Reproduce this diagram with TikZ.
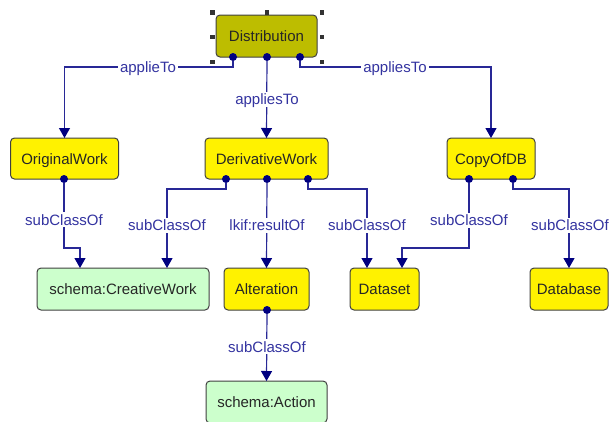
\documentclass[tikz,border=0pt]{standalone}
\usepackage{fontspec}
\setmainfont{Liberation Sans}
\usetikzlibrary{arrows.meta}
\definecolor{linkblue}{RGB}{0,0,128}
\definecolor{edgeblue}{RGB}{40,40,150}
\definecolor{labelblue}{RGB}{51,51,160}
\definecolor{olivebox}{RGB}{189,189,0}
\definecolor{mintbox}{RGB}{204,255,204}
\definecolor{boxline}{RGB}{64,64,64}

\begin{document}
\begin{tikzpicture}[x=1pt, y=-1pt,
  every node/.style={font=\fontsize{15}{18}\selectfont, inner sep=0pt, outer sep=0pt, text height=11pt, text depth=0pt},
  cls/.style={draw=boxline, line width=1pt, rounded corners=4pt, fill=yellow, text=black!85, minimum height=41pt},
  ext/.style={cls, fill=mintbox},
  link/.style={draw=edgeblue, line width=1.2pt, -{Triangle[width=11pt,length=10pt,color=linkblue]}},
  rel/.style={fill=white, text=labelblue, inner xsep=2pt, inner ysep=2pt},
  port/.style={circle, fill=linkblue, minimum size=8pt, text height=0pt}]
\useasboundingbox (0,0) rectangle (610,421);

% classes
\node[cls, fill=olivebox, minimum width=101pt, minimum height=42pt] (dist) at (266.5,36) {Distribution};
\node[cls, minimum width=108pt] (ow) at (64.5,158.5) {OriginalWork};
\node[cls, minimum width=123pt] (dw) at (266.5,158.5) {DerivativeWork};
\node[cls, minimum width=88pt] (copy) at (491,158.5) {CopyOfDB};
\node[ext, minimum width=172pt, minimum height=42pt] (cw) at (123,289) {schema:CreativeWork};
\node[cls, minimum width=85pt, minimum height=42pt] (alt) at (266.5,289) {Alteration};
\node[cls, minimum width=69pt, minimum height=42pt] (set) at (384.5,289) {Dataset};
\node[cls, minimum width=78pt, minimum height=42pt] (db) at (569,289) {Database};
\node[ext, minimum width=121pt, minimum height=42pt] (act) at (266.5,402) {schema:Action};

% selection handles
\fill[black!80] (212.5,12.5) +(-2.25,-2.25) rectangle +(2.25,2.25);
\fill[black!80] (267,12.5) +(-2.25,-2.25) rectangle +(2.25,2.25);
\fill[black!80] (322,12.5) +(-2.25,-2.25) rectangle +(2.25,2.25);
\fill[black!80] (212.5,37) +(-2.25,-2.25) rectangle +(2.25,2.25);
\fill[black!80] (322,37) +(-2.25,-2.25) rectangle +(2.25,2.25);
\fill[black!80] (212.5,62) +(-2.25,-2.25) rectangle +(2.25,2.25);
\fill[black!80] (322,62) +(-2.25,-2.25) rectangle +(2.25,2.25);

% ports
\node[port] (dist1) at (233,57) {};
\node[port] (dist2) at (267,57) {};
\node[port] (dist3) at (300,57) {};
\node[port] (ow1) at (64,179) {};
\node[port] (dw1) at (226,179) {};
\node[port] (dw2) at (267,179) {};
\node[port] (dw3) at (308,179) {};
\node[port] (copy1) at (469,179) {};
\node[port] (copy2) at (513,179) {};
\node[port] (alt1) at (267,310) {};

% relations
\draw[link] (dist1) -- ++(0,10) -| (ow.north);
\draw[link] (dist2) -- (dw.north);
\draw[link] (dist3) -- ++(0,10) -| (copy.north);
\draw[link] (ow1) -- ++(0,69) -| ([xshift=-43pt]cw.north);
\draw[link] (dw1) -- ++(0,10) -| ([xshift=44pt]cw.north);
\draw[link] (dw2) -- (alt.north);
\draw[link] (dw3) -- ++(0,10) -| ([xshift=-17.5pt]set.north);
\draw[link] (copy1) -- ++(0,69) -| ([xshift=17.5pt]set.north);
\draw[link] (copy2) -- ++(0,10) -| (db.north);
\draw[link] (alt1) -- (act.north);

% relation labels
\node[rel] (r1) at (148,67) {applieTo};
\node[rel] (r2) at (267,99) {appliesTo};
\node[rel] (r3) at (395,67) {appliesTo};
\node[rel] (r4) at (64,219.5) {subClassOf};
\node[rel] (r5) at (167,225) {subClassOf};
\node[rel] (r6) at (267,225) {lkif:resultOf};
\node[rel] (r7) at (367,225) {subClassOf};
\node[rel] (r8) at (469,220) {subClassOf};
\node[rel] (r9) at (570,225) {subClassOf};
\node[rel] (r10) at (267,346.5) {subClassOf};
\end{tikzpicture}
\end{document}
